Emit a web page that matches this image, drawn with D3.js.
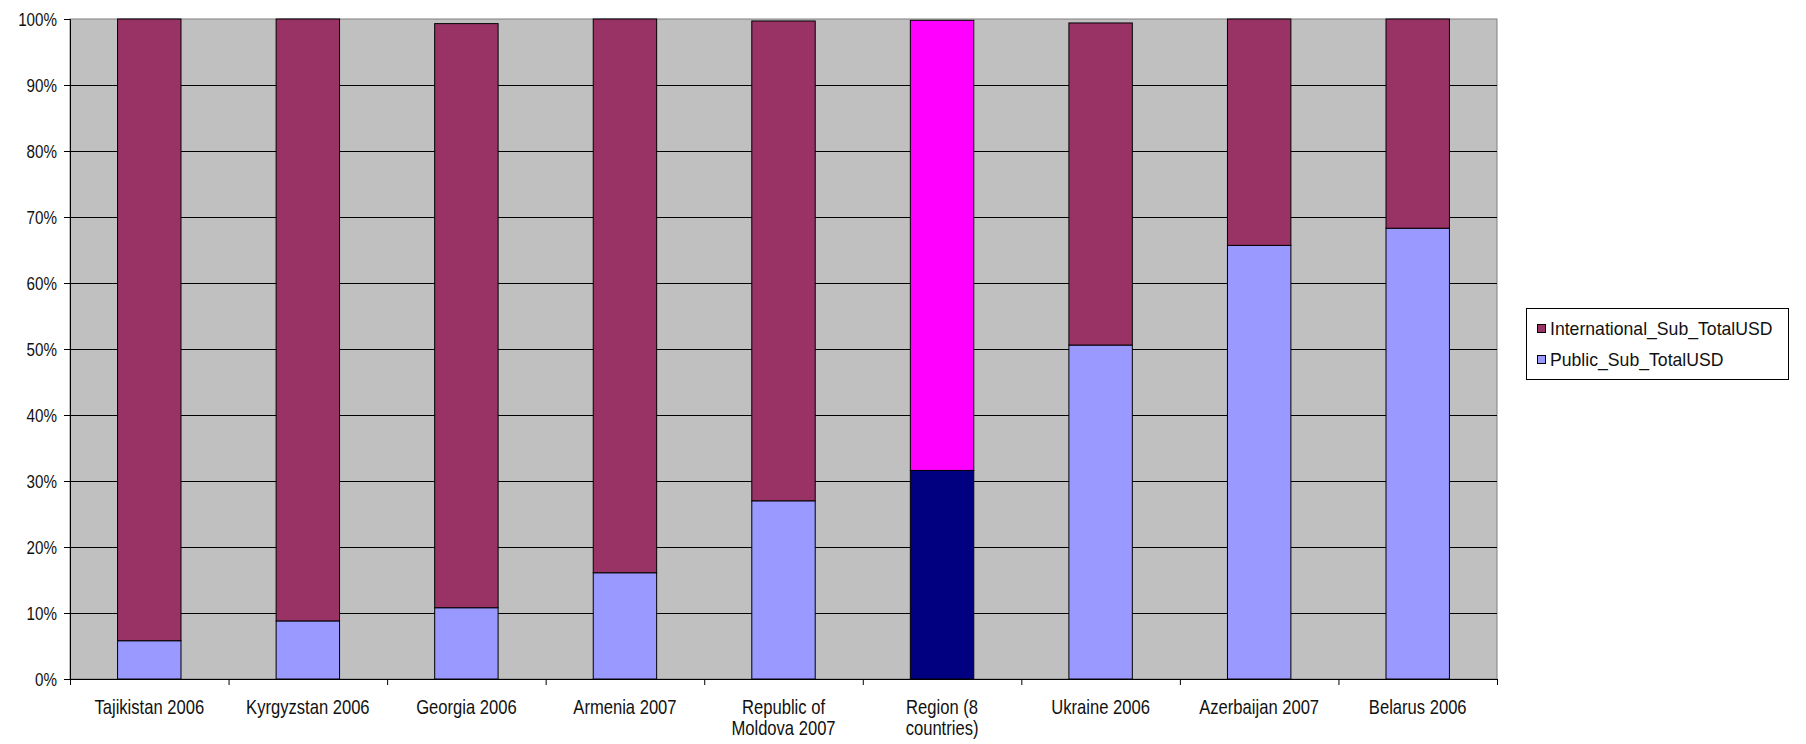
<!DOCTYPE html>
<html>
<head>
<meta charset="utf-8">
<script src="https://cdn.jsdelivr.net/npm/d3@7/dist/d3.min.js"></script>
<style>
  html, body { margin: 0; padding: 0; background: #ffffff; }
  svg { display: block; }
  text { font-family: "Liberation Sans", Arial, sans-serif; fill: #111; }
</style>
</head>
<body>
<svg id="chart" width="1806" height="744"></svg>
<script>
// Funding shares per country (percent of total)
const categories = ["Tajikistan 2006", "Kyrgyzstan 2006", "Georgia 2006", "Armenia 2007",
  "Republic of Moldova 2007", "Region (8 countries)", "Ukraine 2006", "Azerbaijan 2007", "Belarus 2006"];
const categoryLines = [["Tajikistan 2006"], ["Kyrgyzstan 2006"], ["Georgia 2006"], ["Armenia 2007"],
  ["Republic of", "Moldova 2007"], ["Region (8", "countries)"], ["Ukraine 2006"], ["Azerbaijan 2007"], ["Belarus 2006"]];
const publicShare        = [5.8, 8.8, 10.8, 16.1, 27.0, 31.6, 50.6, 65.7, 68.3];
const internationalShare = [94.2, 91.2, 88.5, 83.9, 72.7, 68.2, 48.8, 34.3, 31.7];
const seriesNames = ["International_Sub_TotalUSD", "Public_Sub_TotalUSD"];
const yTicks = [0, 10, 20, 30, 40, 50, 60, 70, 80, 90, 100];
const highlighted = "Region (8 countries)";

const colors = {
  international: "#993366",
  public: "#9999ff",
  regionInternational: "#ff00ff",
  regionPublic: "#000080",
  plot: "#c0c0c0"
};

const svg = d3.select("#chart");
const plot = { left: 70, right: 1497, top: 19, bottom: 679 };
const labelScaleX = 0.83;
const tickScaleX = 0.8;

const x = d3.scaleBand().domain(categories).range([plot.left, plot.right])
  .paddingInner(0.6).paddingOuter(0.3);
const y = d3.scaleLinear().domain([0, 100]).range([plot.bottom, plot.top]);
const slot = d3.scaleLinear().domain([0, categories.length]).range([plot.left, plot.right]);

// plot background
svg.append("rect")
  .attr("x", plot.left).attr("y", plot.top)
  .attr("width", plot.right - plot.left).attr("height", plot.bottom - plot.top)
  .attr("fill", colors.plot).attr("stroke", "#808080").attr("stroke-width", 1);

// horizontal gridlines
svg.append("g").selectAll("line")
  .data(yTicks.filter(t => t > 0 && t < 100))
  .join("line")
  .attr("x1", plot.left).attr("x2", plot.right)
  .attr("y1", d => Math.round(y(d)) + 0.5).attr("y2", d => Math.round(y(d)) + 0.5)
  .attr("stroke", "#000").attr("stroke-width", 1);

// stacked bars
const rows = categories.map((c, i) => ({
  cat: c,
  pub: publicShare[i],
  intl: internationalShare[i]
}));

const bars = svg.append("g");
rows.forEach(r => {
  const isRegion = r.cat === highlighted;
  bars.append("rect")
    .attr("x", x(r.cat)).attr("width", x.bandwidth())
    .attr("y", y(r.pub)).attr("height", y(0) - y(r.pub))
    .attr("fill", isRegion ? colors.regionPublic : colors.public)
    .attr("stroke", "#000").attr("stroke-width", 1);
  bars.append("rect")
    .attr("x", x(r.cat)).attr("width", x.bandwidth())
    .attr("y", y(r.pub + r.intl)).attr("height", y(r.pub) - y(r.pub + r.intl))
    .attr("fill", isRegion ? colors.regionInternational : colors.international)
    .attr("stroke", "#000").attr("stroke-width", 1);
});

// y axis
const yAxis = svg.append("g")
  .attr("transform", `translate(${plot.left},0)`)
  .call(d3.axisLeft(y).tickValues(yTicks).tickSize(6).tickFormat(d => d + "%"));
yAxis.select(".domain").attr("stroke", "#000");
yAxis.selectAll(".tick line").attr("stroke", "#000");
yAxis.selectAll(".tick text")
  .attr("x", 0).attr("dy", "0.36em")
  .attr("transform", `translate(-13,0) scale(${tickScaleX},1)`)
  .style("font-size", "19px").style("font-family", "'Liberation Sans', Arial, sans-serif")
  .attr("fill", "#111");

// x axis: ticks on category boundaries
const xAxis = svg.append("g")
  .attr("transform", `translate(0,${plot.bottom})`)
  .call(d3.axisBottom(slot).tickValues(d3.range(categories.length + 1)).tickSize(6).tickFormat(""));
xAxis.select(".domain").attr("stroke", "#000");
xAxis.selectAll(".tick line").attr("stroke", "#000");

// category labels
const labels = svg.append("g");
categories.forEach((c, i) => {
  const g = labels.append("g")
    .attr("transform", `translate(${x(c) + x.bandwidth() / 2},714) scale(${labelScaleX},1)`);
  const t = g.append("text").attr("text-anchor", "middle").style("font-size", "20px");
  categoryLines[i].forEach((line, j) => {
    t.append("tspan").attr("x", 0).attr("dy", j === 0 ? 0 : 21).text(line);
  });
});

// legend
const legend = svg.append("g");
legend.append("rect")
  .attr("x", 1526.5).attr("y", 308.5).attr("width", 262).attr("height", 71)
  .attr("fill", "#fff").attr("stroke", "#000").attr("stroke-width", 1);
const legendColors = [colors.international, colors.public];
seriesNames.forEach((name, i) => {
  const cy = 329 + i * 31;
  legend.append("rect")
    .attr("x", 1537.5).attr("y", cy - 4.5).attr("width", 8).attr("height", 8)
    .attr("fill", legendColors[i]).attr("stroke", "#000").attr("stroke-width", 1);
  legend.append("g")
    .attr("transform", `translate(1550,${cy + 6}) scale(0.98,1)`)
    .append("text").style("font-size", "18px").text(name);
});
</script>
</body>
</html>
